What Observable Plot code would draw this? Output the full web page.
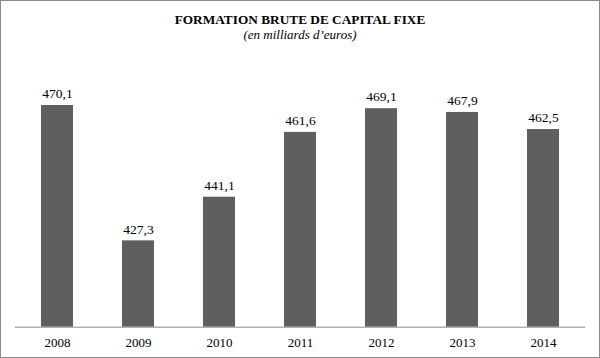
<!DOCTYPE html>
<html><head><meta charset="utf-8">
<script src="https://cdn.jsdelivr.net/npm/d3@7"></script>
<script src="https://cdn.jsdelivr.net/npm/@observablehq/plot@0.6"></script>
<style>
body{margin:0;background:#fff;}
#wrap{position:relative;width:600px;height:358px;overflow:hidden;font-family:'Liberation Serif';}
#border{position:absolute;left:0;top:0;width:600px;height:358px;box-sizing:border-box;border:1px solid #8c8c8c;pointer-events:none;}
#title{position:absolute;left:0;width:600px;top:12px;text-align:center;font-weight:bold;font-size:13.3px;color:#000;font-family:'Liberation Serif';}
#subtitle{position:absolute;left:0;width:600px;top:27px;text-align:center;font-style:italic;font-size:13px;color:#000;font-family:'Liberation Serif';}
#chart{position:absolute;left:0;top:0;}
#chart svg text{font-family:'Liberation Serif' !important;}
</style></head>
<body>
<div id="wrap">
<div id="chart"></div>
<div id="title">FORMATION BRUTE DE CAPITAL FIXE</div>
<div id="subtitle">(en milliards d’euros)</div>
<div id="border"></div>
</div>
<script>
const years = ["2008","2009","2010","2011","2012","2013","2014"];
const values = [470.1, 427.3, 441.1, 461.6, 469.1, 467.9, 462.5];
const data = years.map((y,i)=>({year:y, value:values[i]}));
const fmt = v => v.toFixed(1).replace(".", ",");
const chart = Plot.plot({
  width: 600, height: 358,
  marginTop: 73.7, marginBottom: 31.3, marginLeft: 15, marginRight: 15,
  style: {fontFamily: "Liberation Serif", fontSize: "13px", color: "#000", background: "transparent"},
  x: {domain: years, paddingInner: 0.6, paddingOuter: 0.3, label: null},
  y: {domain: [400, 480], axis: null},
  marks: [
    Plot.barY(data, {x: "year", y1: 400, y2: "value", fill: "#5f5f5f"}),
    Plot.ruleY([400], {stroke: "#8c8c8c", strokeWidth: 1}),
    Plot.text(data, {x: "year", y: "value", text: d => fmt(d.value), dy: -11.5, fill: "#000", fontSize: 13.5, fontFamily: "Liberation Serif"}),
    Plot.axisX({tickSize: 0, tickPadding: 11, fontSize: 13, fill: "#000", fontFamily: "Liberation Serif"})
  ]
});
document.getElementById("chart").appendChild(chart);
</script>
</body></html>
